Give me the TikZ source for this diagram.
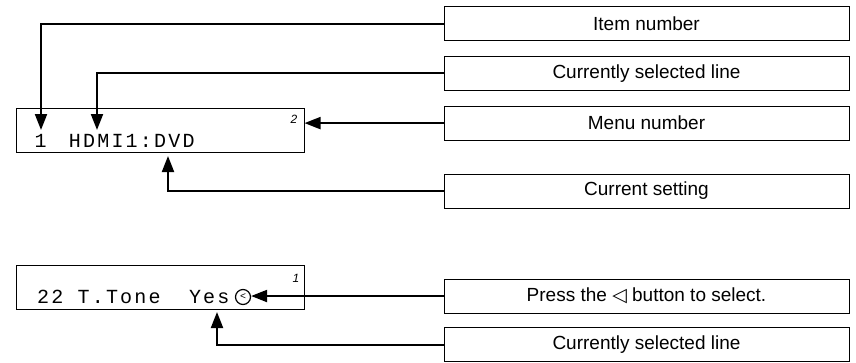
\documentclass[tikz,border=0pt]{standalone}
\usepackage{fontspec}
\setmainfont{Liberation Sans}
\newfontfamily\lcdfont[LetterSpace=11]{Liberation Mono}
\newfontfamily\symfont{DejaVu Sans}
\usetikzlibrary{arrows.meta,positioning}

\begin{document}
\begin{tikzpicture}[x=1pt,y=-1pt,
    labelbox/.style={draw, line width=0.8pt, minimum width=405pt, minimum height=34pt,
      inner sep=0pt, font=\fontsize{19}{19}\selectfont},
    lcdbox/.style={draw, line width=1pt, minimum width=288pt, minimum height=44pt, inner sep=0pt},
    lcdtext/.style={anchor=base west, inner sep=0pt, font=\lcdfont\fontsize{20}{20}\selectfont},
    pagenum/.style={inner sep=0pt, font=\itshape\fontsize{12}{12}\selectfont},
    pointer/.style={line width=2pt, -{Triangle[width=12pt,length=16pt]}}]
  \useasboundingbox (0,0) rectangle (856,362);

  % upper display
  \node[lcdbox] (lcdA) at (160,130) {};
  \node[lcdtext] (lineA) at (34.5,147) {1\kern8pt\ HDMI1:DVD};
  \node[pagenum] (numA) at (294,119) {2};

  % lower display
  \node[lcdbox] (lcdB) at (160,287) {};
  \node[lcdtext] (lineB) at (37,303) {22 T.Tone\ \ Yes};
  \node[draw, circle, line width=1.2pt, minimum size=15pt, inner sep=0pt,
    font=\lcdfont\fontsize{10}{10}\selectfont] (yesmark) at (243,297) {<};
  \node[pagenum] (numB) at (296,278) {1};

  % explanation boxes
  \node[labelbox] (item) at (646.5,23.5) {Item number};
  \node[labelbox, below=15pt of item] (selA) {Currently selected line};
  \node[labelbox, below=15pt of selA] (menu) {Menu number};
  \node[labelbox, below=33pt of menu] (setting) {Current setting};
  \node[labelbox] (press) at (646.5,296) {Press the {\symfont ◁} button to select.};
  \node[labelbox, below=14pt of press] (selB) {Currently selected line};

  % arrow tips
  \coordinate (itemtip) at (41,130);
  \coordinate (selAtip) at (97,130);
  \coordinate (settip) at (168,156);
  \coordinate (selBtip) at (217,312);

  \draw[pointer] (item.west) -| (itemtip);
  \draw[pointer] (selA.west) -| (selAtip);
  \draw[pointer] (menu.west) -- (menu.west -| lcdA.east);
  \draw[pointer] (setting.west) -| (settip);
  \draw[pointer] (press.west) -- (press.west -| yesmark.east);
  \draw[pointer] (selB.west) -| (selBtip);
\end{tikzpicture}
\end{document}
